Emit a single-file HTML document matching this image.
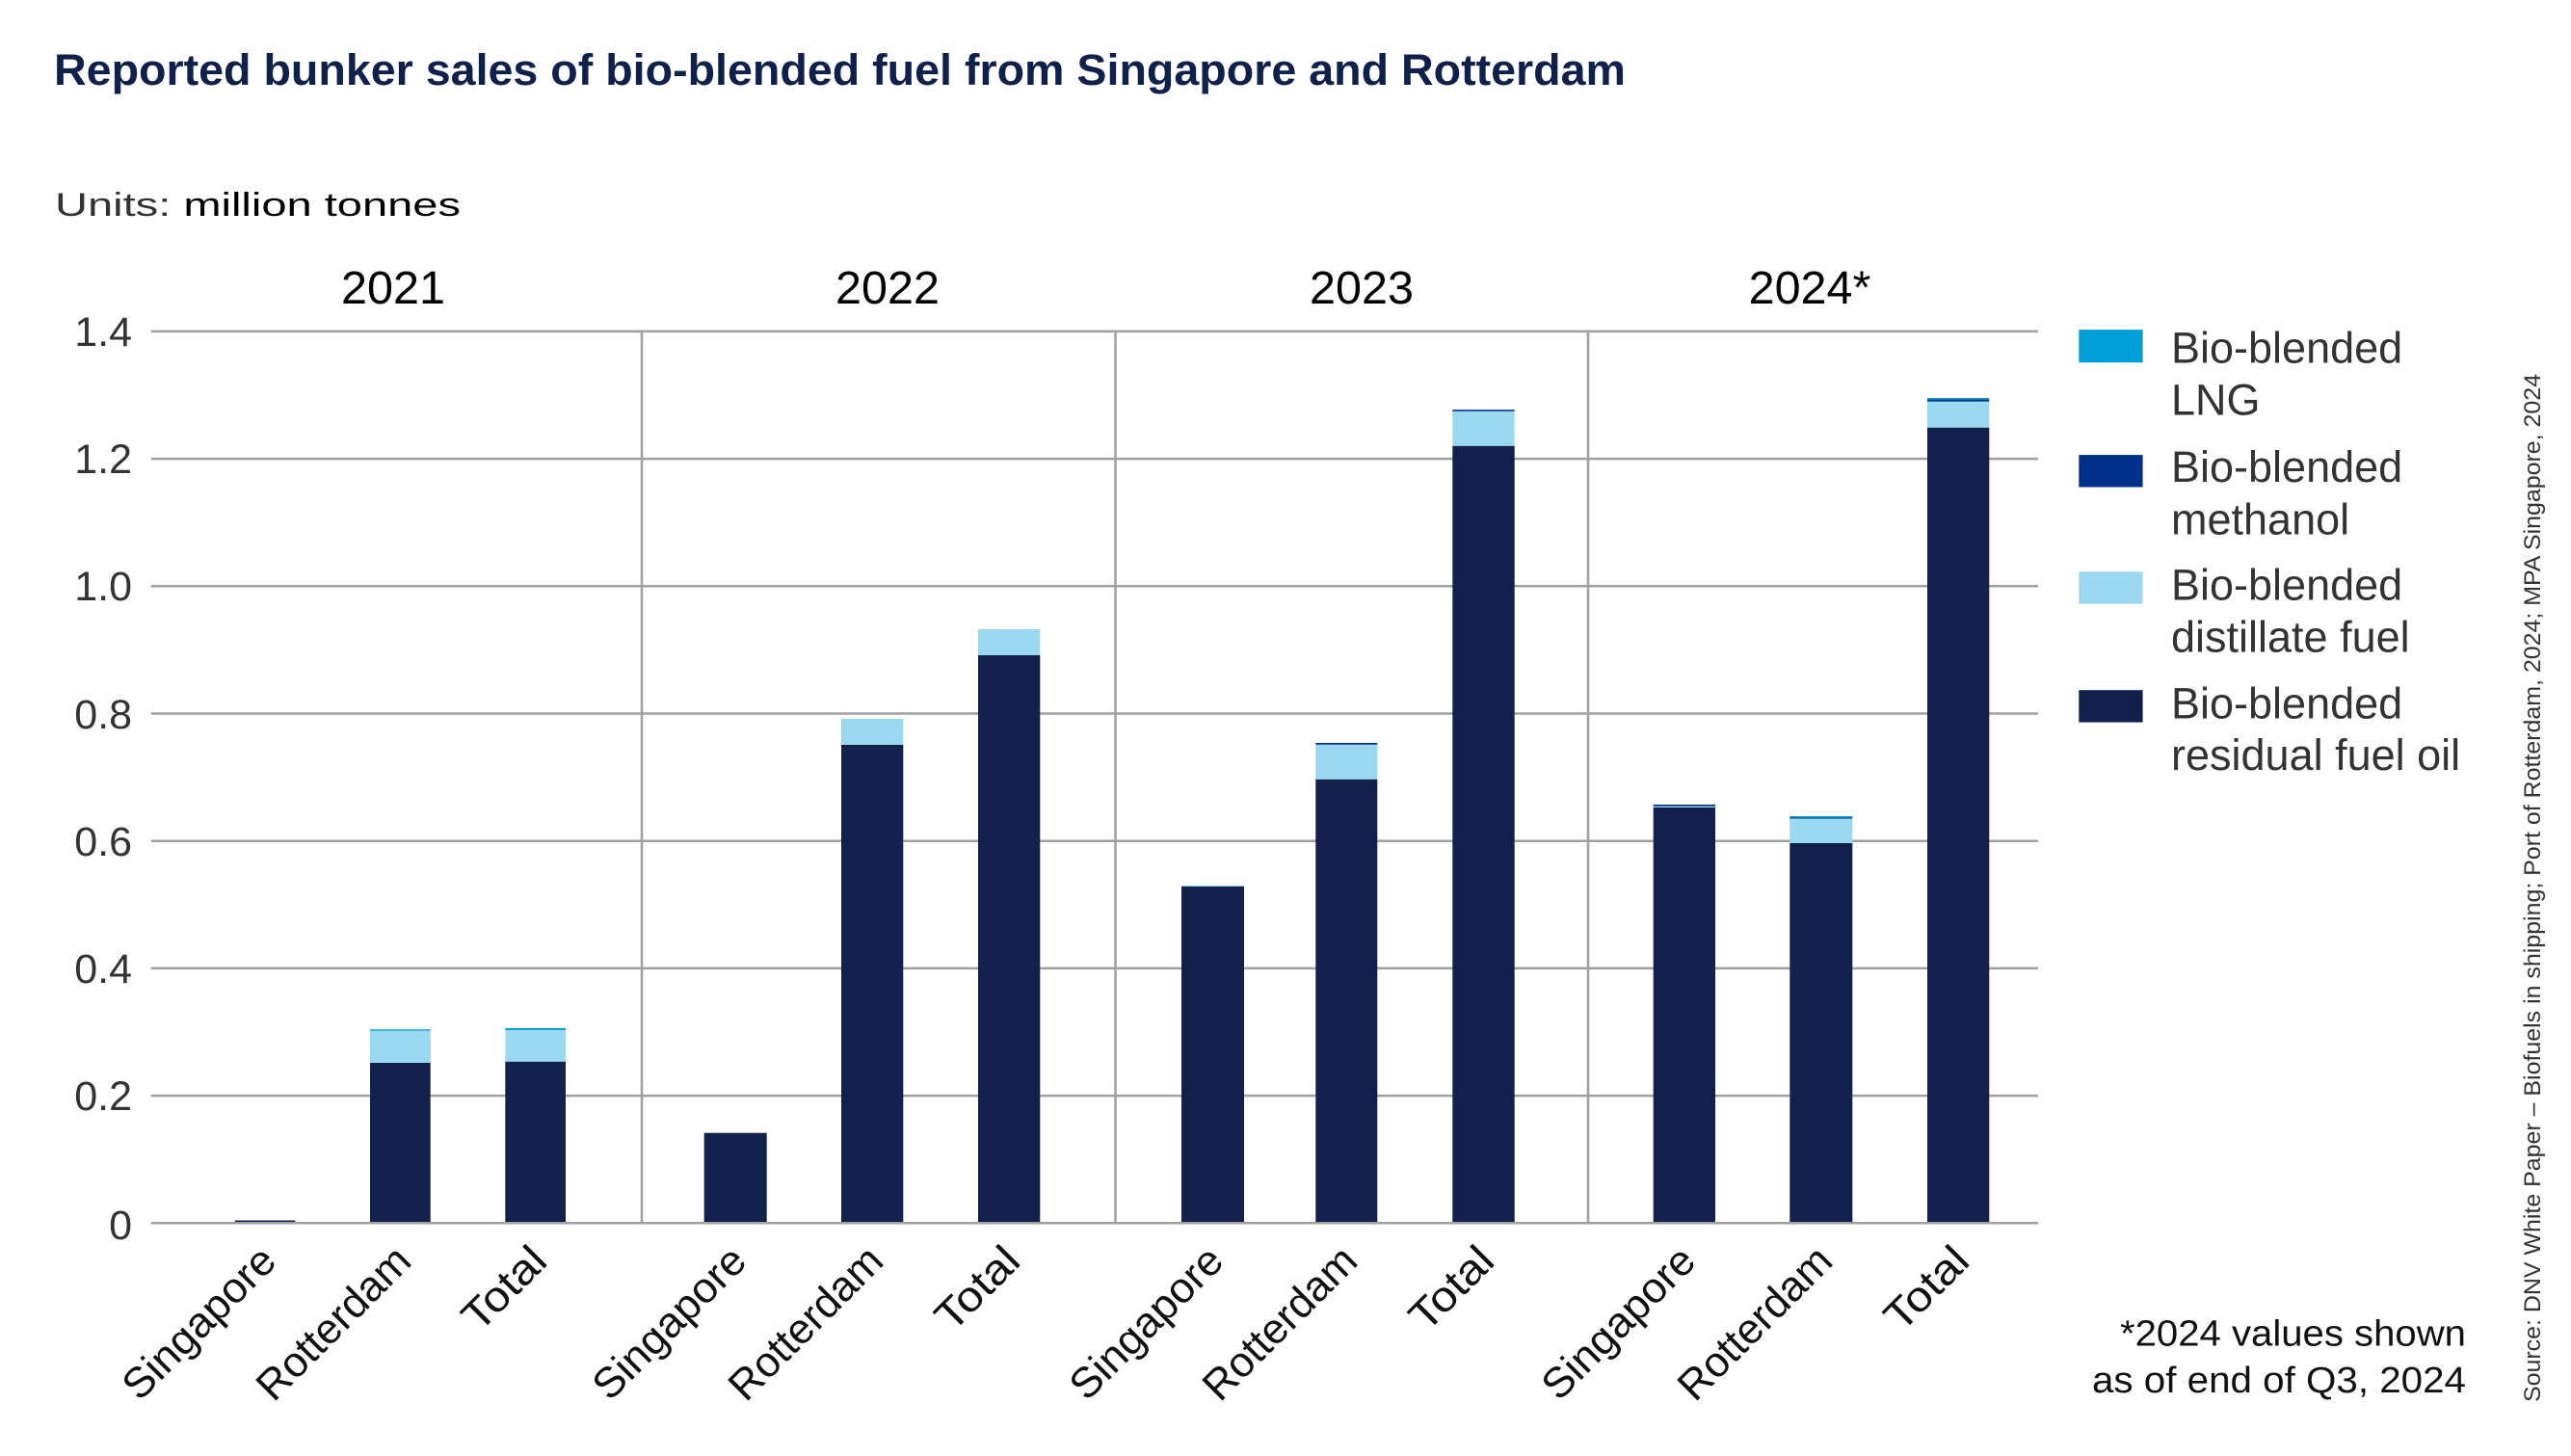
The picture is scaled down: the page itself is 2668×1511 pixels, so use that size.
<!DOCTYPE html>
<html>
<head>
<meta charset="utf-8">
<style>
  html, body { margin: 0; padding: 0; background: #ffffff; }
  svg { display: block; }
  text { font-family: "Liberation Sans", Arial, sans-serif; }
</style>
</head>
<body>
<svg width="2668" height="1511" viewBox="0 0 2668 1511" xmlns="http://www.w3.org/2000/svg">
  <rect x="0" y="0" width="2668" height="1511" fill="#ffffff"/>

  <!-- Title -->
  <text x="56" y="88" font-size="45" font-weight="bold" fill="#0f204b" textLength="1631" lengthAdjust="spacingAndGlyphs">Reported bunker sales of bio-blended fuel from Singapore and Rotterdam</text>

  <!-- Units -->
  <text x="57" y="224" font-size="34" fill="#1a1a1a" textLength="421" lengthAdjust="spacingAndGlyphs"><tspan fill="#333333">Units: </tspan><tspan fill="#000000">million tonnes</tspan></text>

  <!-- Year labels -->
  <g font-size="48.5" fill="#000000" text-anchor="middle">
    <text x="408" y="315">2021</text>
    <text x="921" y="315">2022</text>
    <text x="1413" y="315">2023</text>
    <text x="1878" y="315">2024*</text>
  </g>

  <!-- Gridlines -->
  <g stroke="#a0a0a0" stroke-width="2.5">
    <line x1="156.7" y1="343.9" x2="2115" y2="343.9"/>
    <line x1="156.7" y1="476.1" x2="2115" y2="476.1"/>
    <line x1="156.7" y1="608.3" x2="2115" y2="608.3"/>
    <line x1="156.7" y1="740.5" x2="2115" y2="740.5"/>
    <line x1="156.7" y1="872.7" x2="2115" y2="872.7"/>
    <line x1="156.7" y1="1004.9" x2="2115" y2="1004.9"/>
    <line x1="156.7" y1="1137.1" x2="2115" y2="1137.1"/>
    <line x1="666" y1="343.9" x2="666" y2="1269.3"/>
    <line x1="1157.5" y1="343.9" x2="1157.5" y2="1269.3"/>
    <line x1="1648" y1="343.9" x2="1648" y2="1269.3"/>
  </g>

  <!-- Y tick labels -->
  <g font-size="43" fill="#333333" text-anchor="end">
    <text x="137" y="359">1.4</text>
    <text x="137" y="491">1.2</text>
    <text x="137" y="623">1.0</text>
    <text x="137" y="756">0.8</text>
    <text x="137" y="888">0.6</text>
    <text x="137" y="1020">0.4</text>
    <text x="137" y="1152">0.2</text>
    <text x="137" y="1286">0</text>
  </g>

  <!-- Bars -->
  <!-- 2021 -->
  <rect x="243.7" y="1266.5" width="62.6" height="2.8" fill="#12214b"/>
  <rect x="384" y="1103" width="62.7" height="166.3" fill="#12214b"/>
  <rect x="384" y="1069.3" width="62.7" height="33.7" fill="#9ad9f0"/>
  <rect x="384" y="1068.3" width="62.7" height="1.3" fill="#009fda"/>
  <rect x="524.3" y="1101.7" width="62.7" height="167.6" fill="#12214b"/>
  <rect x="524.3" y="1069" width="62.7" height="32.7" fill="#9ad9f0"/>
  <rect x="524.3" y="1067" width="62.7" height="2" fill="#009fda"/>
  <!-- 2022 -->
  <rect x="730.7" y="1175.7" width="65" height="93.6" fill="#12214b"/>
  <rect x="873" y="773" width="64.3" height="496.3" fill="#12214b"/>
  <rect x="873" y="746" width="64.3" height="27" fill="#9ad9f0"/>
  <rect x="1015" y="680" width="64.3" height="589.3" fill="#12214b"/>
  <rect x="1015" y="653" width="64.3" height="27" fill="#9ad9f0"/>
  <!-- 2023 -->
  <rect x="1226" y="920" width="65" height="349.3" fill="#12214b"/>
  <rect x="1226" y="918.8" width="65" height="1.2" fill="#9ad9f0"/>
  <rect x="1365.3" y="808.7" width="64" height="460.6" fill="#12214b"/>
  <rect x="1365.3" y="772.7" width="64" height="36" fill="#9ad9f0"/>
  <rect x="1365.3" y="771" width="64" height="1.7" fill="#003087"/>
  <rect x="1507.3" y="462.7" width="64.4" height="806.6" fill="#12214b"/>
  <rect x="1507.3" y="427" width="64.4" height="35.7" fill="#9ad9f0"/>
  <rect x="1507.3" y="425" width="64.4" height="2" fill="#2a55b0"/>
  <!-- 2024 -->
  <rect x="1715.7" y="838" width="64.3" height="431.3" fill="#12214b"/>
  <rect x="1715.7" y="836.7" width="64.3" height="1.3" fill="#9ad9f0"/>
  <rect x="1715.7" y="835" width="64.3" height="1.7" fill="#003087"/>
  <rect x="1857.3" y="875" width="65" height="394.3" fill="#12214b"/>
  <rect x="1857.3" y="849.5" width="65" height="25.5" fill="#9ad9f0"/>
  <rect x="1857.3" y="848.3" width="65" height="1.2" fill="#003087"/>
  <rect x="1857.3" y="847" width="65" height="1.3" fill="#009fda"/>
  <rect x="2000" y="443.7" width="64.3" height="825.6" fill="#12214b"/>
  <rect x="2000" y="416.7" width="64.3" height="27" fill="#9ad9f0"/>
  <rect x="2000" y="414.3" width="64.3" height="2.4" fill="#003087"/>
  <rect x="2000" y="413" width="64.3" height="1.3" fill="#009fda"/>

  <!-- Zero line -->
  <line x1="156.7" y1="1269.3" x2="2115" y2="1269.3" stroke="#a0a0a0" stroke-width="2.5"/>

  <!-- X labels (rotated) -->
  <g font-size="44" fill="#111111" text-anchor="end">
    <text transform="translate(289,1311) rotate(-45)" textLength="204" lengthAdjust="spacingAndGlyphs">Singapore</text>
    <text transform="translate(429,1311) rotate(-45)" textLength="205" lengthAdjust="spacingAndGlyphs">Rotterdam</text>
    <text transform="translate(570,1311) rotate(-45)" textLength="103" lengthAdjust="spacingAndGlyphs">Total</text>

    <text transform="translate(777,1311) rotate(-45)" textLength="204" lengthAdjust="spacingAndGlyphs">Singapore</text>
    <text transform="translate(919,1311) rotate(-45)" textLength="205" lengthAdjust="spacingAndGlyphs">Rotterdam</text>
    <text transform="translate(1061,1311) rotate(-45)" textLength="103" lengthAdjust="spacingAndGlyphs">Total</text>

    <text transform="translate(1272,1311) rotate(-45)" textLength="204" lengthAdjust="spacingAndGlyphs">Singapore</text>
    <text transform="translate(1411,1311) rotate(-45)" textLength="205" lengthAdjust="spacingAndGlyphs">Rotterdam</text>
    <text transform="translate(1553,1311) rotate(-45)" textLength="103" lengthAdjust="spacingAndGlyphs">Total</text>

    <text transform="translate(1762,1311) rotate(-45)" textLength="204" lengthAdjust="spacingAndGlyphs">Singapore</text>
    <text transform="translate(1904,1311) rotate(-45)" textLength="205" lengthAdjust="spacingAndGlyphs">Rotterdam</text>
    <text transform="translate(2046,1311) rotate(-45)" textLength="103" lengthAdjust="spacingAndGlyphs">Total</text>
  </g>

  <!-- Legend -->
  <rect x="2157.3" y="342.1" width="66.3" height="34.1" fill="#009fda"/>
  <rect x="2157.3" y="472.1" width="66.3" height="33.4" fill="#003087"/>
  <rect x="2157.3" y="593.3" width="66.3" height="33.4" fill="#9ad9f0"/>
  <rect x="2157.3" y="716.2" width="66.3" height="33.4" fill="#12214b"/>
  <g font-size="45" fill="#333333">
    <text x="2253" y="376.6">Bio-blended</text>
    <text x="2253" y="430.7">LNG</text>
    <text x="2253" y="500.2">Bio-blended</text>
    <text x="2253" y="554.7">methanol</text>
    <text x="2253" y="622.4">Bio-blended</text>
    <text x="2253" y="676.5">distillate fuel</text>
    <text x="2253" y="745.4">Bio-blended</text>
    <text x="2253" y="798.8">residual fuel oil</text>
  </g>

  <!-- Footnote -->
  <g font-size="38" fill="#111111" text-anchor="end">
    <text x="2559" y="1396.7" textLength="359" lengthAdjust="spacingAndGlyphs">*2024 values shown</text>
    <text x="2559" y="1445" textLength="388" lengthAdjust="spacingAndGlyphs">as of end of Q3, 2024</text>
  </g>

  <!-- Source (vertical) -->
  <text transform="translate(2636,1455) rotate(-90)" font-size="24.5" fill="#333333" textLength="1067" lengthAdjust="spacingAndGlyphs">Source: DNV White Paper – Biofuels in shipping; Port of Rotterdam, 2024; MPA Singapore, 2024</text>
</svg>
</body>
</html>
